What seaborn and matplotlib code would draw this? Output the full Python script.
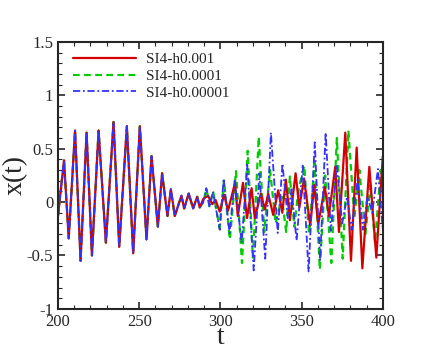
import numpy as np
import pandas as pd
import matplotlib
matplotlib.use("Agg")
import matplotlib.pyplot as plt
from matplotlib.ticker import MultipleLocator
import seaborn as sns

# common part of the trajectory (all three step sizes agree here)
t_common = [200.0, 203.7, 206.6, 210.5, 213.9, 217.6, 220.9, 225.0, 229.5, 234.2,
            237.7, 242.4, 246.3, 250.4, 254.5, 257.6, 261.5, 264.1, 267.4, 269.5,
            271.9, 276.0, 277.7, 280.5, 283.2, 285.7, 287.3]
x_common = [-0.13, 0.39, -0.34, 0.67, -0.55, 0.65, -0.50, 0.67, -0.38, 0.75,
            -0.42, 0.71, -0.48, 0.71, -0.35, 0.43, -0.23, 0.27, -0.13, 0.12,
            -0.13, 0.06, -0.06, 0.08, -0.06, 0.05, -0.05]

# SI4-h0.001
t_red = [289.5, 292.4, 295.0, 297.0, 299.6, 302.3, 304.7, 309.0, 310.7, 313.9,
         316.4, 319.2, 321.2, 324.9, 327.4, 329.4, 332.5, 335.6, 338.1, 340.3,
         342.8, 346.3, 348.6, 351.5, 355.3, 357.8, 360.2, 364.3, 366.8, 370.7,
         373.0, 376.9, 380.4, 383.9, 387.4, 391.7, 396.0, 400.0]
x_red = [0.03, 0.06, -0.02, 0.02, -0.09, 0.07, -0.08, 0.18, -0.13, 0.18,
         -0.15, 0.13, -0.15, 0.08, -0.07, 0.08, -0.12, 0.11, -0.10, 0.21,
         -0.17, 0.27, -0.05, 0.22, -0.22, 0.16, -0.21, 0.14, -0.13, 0.33,
         -0.28, 0.65, -0.55, 0.51, -0.62, 0.33, -0.52, 0.43]

# SI4-h0.0001
t_green = [289.5, 291.4, 293.3, 295.5, 299.5, 302.2, 305.8, 309.6, 313.3, 316.8,
           320.0, 323.6, 327.0, 330.6, 334.0, 337.8, 340.5, 342.8, 345.5, 348.0,
           351.6, 354.6, 358.0, 361.2, 364.5, 368.3, 371.7, 375.3, 378.8, 382.5,
           385.6, 389.3, 392.3, 395.2, 398.7, 400.0]
x_green = [0.0, 0.13, -0.04, 0.10, -0.24, 0.20, -0.35, 0.29, -0.57, 0.48,
           -0.52, 0.61, -0.28, 0.30, -0.20, 0.05, -0.28, 0.24, -0.23, 0.11,
           0.34, -0.30, 0.37, -0.63, 0.25, -0.57, 0.60, -0.53, 0.67, -0.15,
           0.30, -0.30, 0.16, -0.38, 0.30, 0.10]

# SI4-h0.00001
t_blue = [289.5, 291.3, 293.3, 295.4, 299.6, 302.0, 305.6, 308.8, 313.1, 316.5,
          320.5, 324.0, 327.6, 331.1, 335.3, 338.2, 341.5, 343.8, 346.9, 350.7,
          354.3, 358.1, 361.4, 364.8, 368.0, 371.6, 375.0, 378.0, 380.8, 384.5,
          387.8, 390.5, 393.5, 397.0, 400.0]
x_blue = [0.0, 0.13, -0.05, 0.10, -0.26, 0.22, -0.29, 0.20, -0.38, 0.35,
          -0.64, 0.27, -0.53, 0.65, -0.29, 0.36, -0.15, 0.12, -0.36, 0.34,
          -0.65, 0.56, -0.55, 0.65, -0.27, 0.35, -0.20, 0.05, -0.26, 0.21,
          -0.26, 0.05, -0.10, 0.31, -0.26]

labels = ["SI4-h0.001", "SI4-h0.0001", "SI4-h0.00001"]

sns.set_style("ticks")
plt.rcParams['font.family'] = ['Liberation Serif', 'DejaVu Serif']
plt.rcParams['lines.solid_joinstyle'] = 'round'
plt.rcParams['lines.dash_joinstyle'] = 'round'

fig = plt.figure(figsize=(4.36, 3.49), dpi=100)
ax = fig.add_axes([0.133, 0.115, 0.745, 0.765])

red = pd.DataFrame({'t': t_common + t_red, 'x': x_common + x_red})
green = pd.DataFrame({'t': t_common + t_green, 'x': x_common + x_green})
blue = pd.DataFrame({'t': t_common + t_blue, 'x': x_common + x_blue})

# green first so it sits under red in the shared part, blue on top
sns.lineplot(data=green, x='t', y='x', ax=ax, color='#00cc00', lw=1.6,
             linestyle=(0, (3, 2)), label=labels[1])
sns.lineplot(data=red, x='t', y='x', ax=ax, color='#d40000', lw=1.6,
             label=labels[0])
sns.lineplot(data=blue, x='t', y='x', ax=ax, color='#3333ff', lw=1.3,
             linestyle=(0, (4, 1.5, 1, 1.5)), label=labels[2])

ax.set_xlim(200, 400)
ax.set_ylim(-1, 1.5)
ax.xaxis.set_major_locator(MultipleLocator(50))
ax.xaxis.set_minor_locator(MultipleLocator(10))
ax.yaxis.set_minor_locator(MultipleLocator(0.1))
ax.set_yticks([-1, -0.5, 0, 0.5, 1, 1.5])
ax.set_yticklabels(['-1', '-0.5', '0', '0.5', '1', '1.5'])
ax.tick_params(which='both', direction='in', top=True, right=True, labelsize=12)
ax.tick_params(which='major', length=5, width=1.2)
ax.tick_params(which='minor', length=3, width=0.8)
for s in ax.spines.values():
    s.set_linewidth(1.5)

ax.set_xlabel('t', fontsize=20, labelpad=-3.5)
ax.set_ylabel('x(t)', fontsize=20, labelpad=-1)

h, l = ax.get_legend_handles_labels()
order = [l.index(lab) for lab in labels]
ax.legend([h[i] for i in order], labels, loc='upper left', frameon=False,
          fontsize=11, handlelength=4.1, handletextpad=0.65, labelspacing=0.2,
          bbox_to_anchor=(0.005, 1.012))

fig.savefig('out.png', dpi=100)
